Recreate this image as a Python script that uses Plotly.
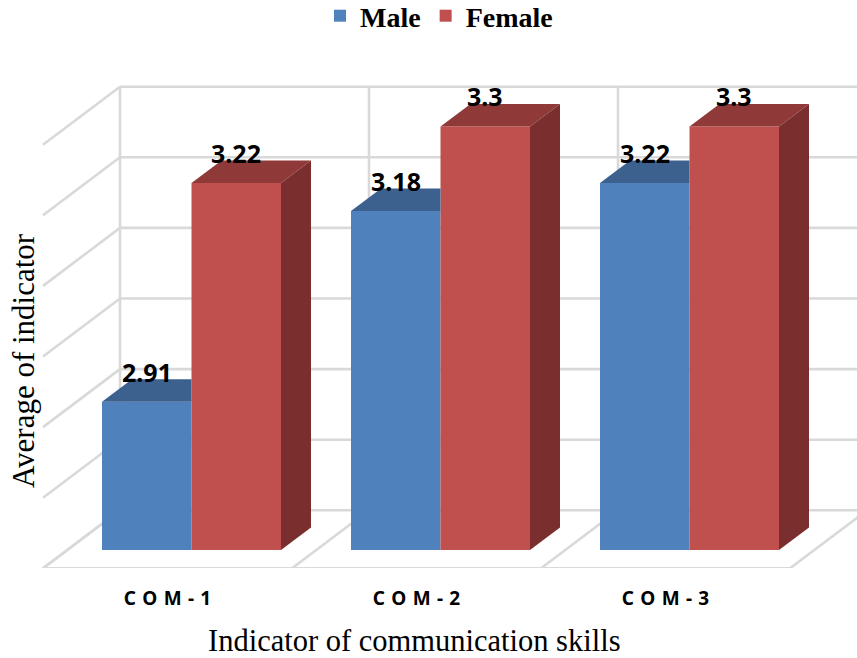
import plotly.graph_objects as go

# --- data ---
categories = ["COM-1", "COM-2", "COM-3"]
tick_labels = ["C\u2004O\u2004M\u2004-\u20041", "C\u2004O\u2004M\u2004-\u20042", "C\u2004O\u2004M\u2004-\u20043"]
male = [2.91, 3.18, 3.22]
female = [3.22, 3.30, 3.30]
grid_values = [2.7, 2.8, 2.9, 3.0, 3.1, 3.2, 3.3]

# --- style / pseudo-3D projection (unit sizes in pixels) ---
W, H = 857, 658
PX_X, PX_Y = 249.0, 706.0
BASE = grid_values[0]
BAR_W = 89.5 / PX_X
DX, DY = 30 / PX_X, 22.5 / PX_Y             # bar depth
WALL_DX, WALL_DY = -71.5 / PX_X, 39.7 / PX_Y  # back wall relative to bars' front
FLOOR_DX, FLOOR_DY = 77 / PX_X, 58 / PX_Y    # wall depth
C0_PX, BASE_PX = 191.5, 550.0
TOP_PX, BOTTOM_PX = 60, 568
GRID = "#D9D9D9"
BLUE, BLUE_TOP = "#4F81BD", "#3C618F"
RED, RED_TOP, RED_SIDE = "#C0504D", "#8F3A39", "#7A2F2E"
SERIF = "Liberation Serif"
SANS = "Noto Sans"

xs = list(range(len(categories)))
x_range = [-C0_PX / PX_X, (W - C0_PX) / PX_X]
y_range = [BASE - (BOTTOM_PX - BASE_PX) / PX_Y, BASE + (BASE_PX - TOP_PX) / PX_Y]

fig = go.Figure()
fig.add_bar(name="Male", x=xs, y=[v - BASE for v in male], base=BASE,
            marker=dict(color=BLUE, line_width=0),
            customdata=male, hovertemplate="%{customdata}<extra>Male</extra>")
fig.add_bar(name="Female", x=xs, y=[v - BASE for v in female], base=BASE,
            marker=dict(color=RED, line_width=0),
            customdata=female, hovertemplate="%{customdata}<extra>Female</extra>")


def face(px, py, color):
    fig.add_scatter(x=px, y=py, mode="lines", fill="toself", fillcolor=color,
                    line=dict(width=0, color=color), showlegend=False, hoverinfo="skip")


for i, (m, f) in enumerate(zip(male, female)):
    # top of the male bar: its right part is hidden behind the female bar
    face([i - BAR_W, i, i, i - BAR_W + DX, i - BAR_W],
         [m, m, m + DY, m + DY, m], BLUE_TOP)
    # top and side of the female bar
    face([i, i + BAR_W, i + BAR_W + DX, i + DX, i],
         [f, f, f + DY, f + DY, f], RED_TOP)
    face([i + BAR_W, i + BAR_W + DX, i + BAR_W + DX, i + BAR_W, i + BAR_W],
         [BASE, BASE + DY, f + DY, f, BASE], RED_SIDE)

# --- back wall, side wall and floor lines ---
shapes = []


def seg(x0, y0, x1, y1):
    shapes.append(dict(type="line", xref="x", yref="y", layer="below",
                       x0=x0, y0=y0, x1=x1, y1=y1, line=dict(color=GRID, width=2.6)))


wall_x = WALL_DX
for v in grid_values:
    wy = v + WALL_DY
    seg(wall_x, wy, x_range[1] + 1, wy)
    seg(wall_x, wy, wall_x - FLOOR_DX, wy - FLOOR_DY)
for i in range(len(categories) + 1):
    wx = i + WALL_DX
    seg(wx, BASE + WALL_DY, wx, grid_values[-1] + WALL_DY)
    seg(wx, BASE + WALL_DY, wx - FLOOR_DX, BASE + WALL_DY - FLOOR_DY)
seg(wall_x - FLOOR_DX, BASE + WALL_DY - FLOOR_DY,
    len(categories) + wall_x - FLOOR_DX, BASE + WALL_DY - FLOOR_DY)

# --- value labels ---
annotations = []
for i, (m, f) in enumerate(zip(male, female)):
    for v, off in ((m, -BAR_W / 2), (f, BAR_W / 2)):
        annotations.append(dict(x=i + off, y=v, xref="x", yref="y", text=f"{v:g}",
                                showarrow=False, yshift=30,
                                font=dict(family=SANS, size=25, color="#000000", weight="bold")))

# --- axis titles ---
paper_y = lambda py: (BOTTOM_PX - py) / (BOTTOM_PX - TOP_PX)
annotations.append(dict(x=414 / W, y=paper_y(641), xref="paper", yref="paper",
                        xanchor="center", yanchor="middle",
                        text="Indicator of communication skills", showarrow=False,
                        font=dict(family=SERIF, size=30.5, color="#000000")))
annotations.append(dict(x=23 / W, y=paper_y(361), xref="paper", yref="paper", textangle=-90,
                        xanchor="center", yanchor="middle",
                        text="Average of indicator", showarrow=False,
                        font=dict(family=SERIF, size=31, color="#000000")))

fig.update_layout(
    width=W, height=H, autosize=False,
    margin=dict(l=0, r=0, t=TOP_PX, b=H - BOTTOM_PX, pad=0),
    plot_bgcolor="white", paper_bgcolor="white",
    barmode="group", bargap=1 - 2 * BAR_W, bargroupgap=0,
    shapes=shapes, annotations=annotations,
    legend=dict(orientation="h", x=439 / W, xanchor="center", y=1 - 16 / H, yanchor="middle",
                yref="container",
                font=dict(family=SERIF, size=28, color="#000000", weight="bold"),
                bgcolor="rgba(0,0,0,0)", itemclick=False, itemdoubleclick=False),
    xaxis=dict(range=x_range, tickmode="array",
               tickvals=[i - 24 / PX_X for i in xs], ticktext=tick_labels,
               showgrid=False, zeroline=False, showline=False, ticks="",
               ticklabelstandoff=17,
               tickfont=dict(family=SANS, size=19, color="#000000", weight="bold")),
    yaxis=dict(range=y_range, visible=False),
)

fig.write_html("out.html", config={"displayModeBar": False},
               post_script="document.body.style.margin='0';")
